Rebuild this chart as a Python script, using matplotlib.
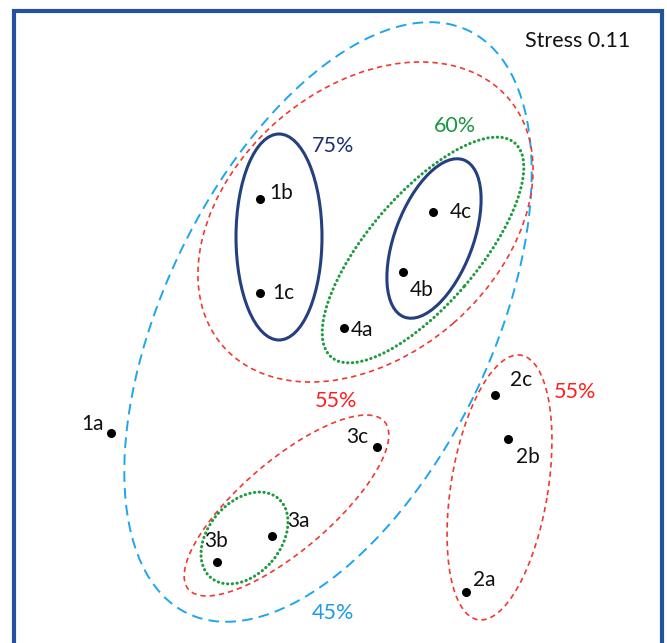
import matplotlib.pyplot as plt
from matplotlib.patches import Ellipse, Rectangle

plt.rcParams['font.family'] = ['Lato', 'DejaVu Sans']

# NMDS site scores (plot units, x to the right, y upwards)
sites = ['1a', '1b', '1c', '2a', '2b', '2c', '3a', '3b', '3c', '4a', '4b', '4c']
nmds1 = [111, 260, 260, 466, 508, 495, 272, 217, 377, 344, 403, 433]
nmds2 = [210, 444, 350, 51, 204, 248, 107, 81, 196, 315, 371, 431]

# where each site label sits
label_x = [93, 281, 283, 484, 528, 521, 298, 216, 357, 362, 422, 461]
label_y = [219, 450, 350, 63, 186, 263, 122, 102, 206, 313, 353, 431]

# similarity ellipses: centre, full axes, rotation, group level
ell_x = [328, 365.5, 279, 434, 423, 286.5, 244.5, 499.5]
ell_y = [321, 421, 406, 404.5, 393, 137.5, 105, 155.5]
ell_w = [647, 378, 86, 168, 282, 258, 104, 268]
ell_h = [327, 268, 206, 78, 110, 90, 72, 97]
ell_ang = [64.2, 41, 0, 69.2, 49.4, 40.5, 49.5, 80.8]
ell_level = [45, 55, 75, 75, 60, 55, 60, 55]

level_style = {
    45: dict(color='#1DA6EE', lw=1.4, ls=(0, (5.5, 3.2))),
    55: dict(color='#EE3A32', lw=1.2, ls=(0, (3.2, 2.4))),
    60: dict(color='#1E9B3E', lw=2.2, ls=(0, (0.1, 1.45))),
    75: dict(color='#24407F', lw=2.2, ls='-'),
}

# percentage labels
pct_text = ['75%', '60%', '55%', '55%', '45%']
pct_x = [333, 455, 336, 575, 333]
pct_y = [497, 517, 242, 251, 30]
pct_color = ['#1F2F70', '#1A9641', '#FF1F1F', '#FF1F1F', '#1A9BE8']

fig = plt.figure(figsize=(6.67, 6.43), dpi=100)
ax = fig.add_axes([0, 0, 1, 1])
ax.set_xlim(0, 667)
ax.set_ylim(0, 643)
ax.axis('off')

for x, y, w, h, a, lev in zip(ell_x, ell_y, ell_w, ell_h, ell_ang, ell_level):
    st = level_style[lev]
    e = Ellipse((x, y), w, h, angle=a, fill=False, edgecolor=st['color'],
                linewidth=st['lw'], linestyle=st['ls'])
    if lev == 60:
        e.set_capstyle('round')
    ax.add_patch(e)

ax.scatter(nmds1, nmds2, s=30, color='black', zorder=5)
for s, x, y in zip(sites, label_x, label_y):
    ax.text(x, y, s, fontsize=15, ha='center', va='center', color='#111111')

for t, x, y, c in zip(pct_text, pct_x, pct_y, pct_color):
    ax.text(x, y, t, fontsize=15.5, ha='center', va='center', color=c)

ax.text(578, 602, 'Stress 0.11', fontsize=15.5, ha='center', va='center', color='#111111')

# frame
ax.add_patch(Rectangle((14, -20), 648, 652, fill=False, edgecolor='#2552A0',
                       linewidth=3, zorder=6))

fig.savefig('out.png', dpi=100)
